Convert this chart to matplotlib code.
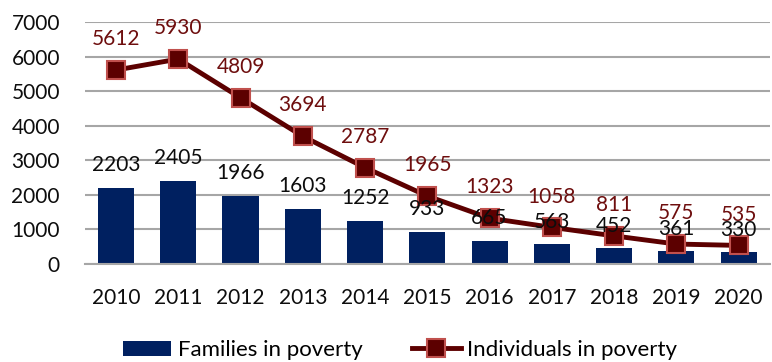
import matplotlib
matplotlib.use("Agg")
import matplotlib.pyplot as plt
import numpy as np

plt.rcParams['font.family'] = ['Lato', 'DejaVu Sans']

years = ["2010", "2011", "2012", "2013", "2014", "2015", "2016", "2017", "2018", "2019", "2020"]
families = [2203, 2405, 1966, 1603, 1252, 933, 665, 563, 452, 361, 330]
individuals = [5612, 5930, 4809, 3694, 2787, 1965, 1323, 1058, 811, 575, 535]
yticks = [0, 1000, 2000, 3000, 4000, 5000, 6000, 7000]

bar_color = "#002060"
line_color = "#5C0000"
marker_edge = "#C0504D"
line_label_color = "#6E0E0E"
grid_color = "#A6A6A6"

fig = plt.figure(figsize=(7.72, 3.62), dpi=100)
ax = fig.add_axes([0.110, 0.271, 0.887, 0.668])

x = np.arange(len(years))
bars = ax.bar(x, families, width=0.58, color=bar_color, zorder=2, label="Families in poverty")
line, = ax.plot(x, individuals, color=line_color, lw=3.5, marker="s", markersize=13,
                markerfacecolor=line_color, markeredgecolor=marker_edge, markeredgewidth=1.5,
                zorder=3, label="Individuals in poverty")

for xi, v in zip(x, families):
    ax.annotate(str(v), (xi, v), xytext=(0, 9), textcoords="offset points",
                ha="center", va="bottom", fontsize=15, color="#0D0D0D", zorder=4)
for xi, v in zip(x, individuals):
    ax.annotate(str(v), (xi, v), xytext=(0, 15), textcoords="offset points",
                ha="center", va="bottom", fontsize=15, color=line_label_color, zorder=4)

ax.set_xlim(-0.5, len(years) - 0.5)
ax.set_ylim(0, 7000)
ax.set_yticks(yticks)
ax.set_xticks(x)
ax.set_xticklabels(years)
ax.tick_params(axis="both", length=0, labelsize=15, colors="#0D0D0D")
ax.tick_params(axis="y", pad=18)
ax.tick_params(axis="x", pad=17)
ax.yaxis.grid(True, color=grid_color, lw=1.5, zorder=0)
ax.set_axisbelow(True)
for s in ["top", "right", "left"]:
    ax.spines[s].set_visible(False)
ax.spines["bottom"].set_color(grid_color)
ax.spines["bottom"].set_linewidth(1.5)

fig.legend([bars, line], ["Families in poverty", "Individuals in poverty"],
           loc="lower center", bbox_to_anchor=(0.518, -0.05), ncol=2, frameon=False,
           fontsize=16, handlelength=2.2, columnspacing=2.2, handletextpad=0.3)

fig.savefig("out.png", dpi=100)
